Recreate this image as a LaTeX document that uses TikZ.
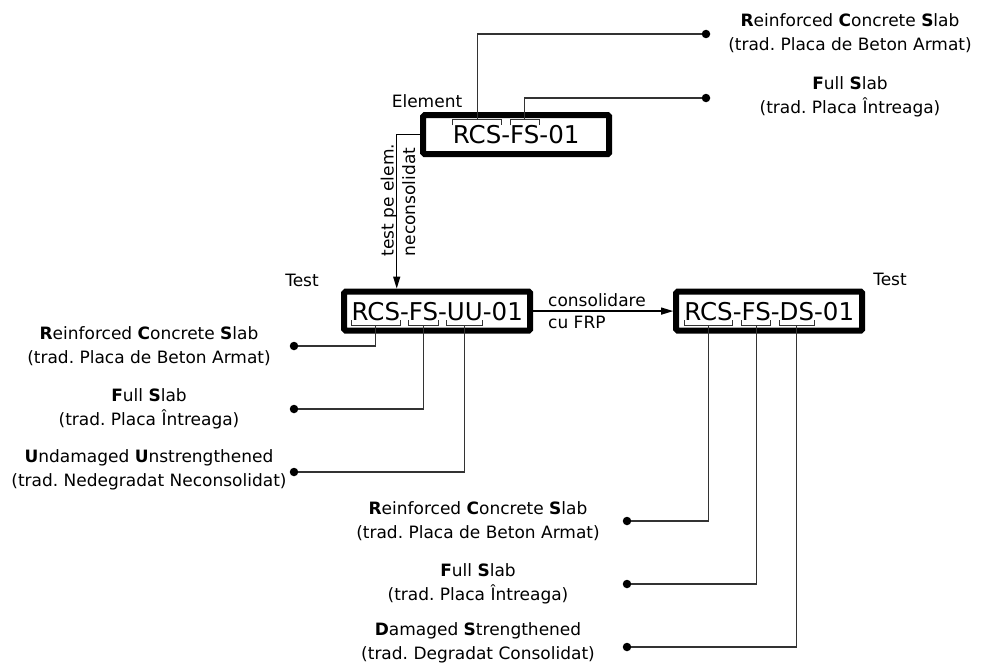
\documentclass[tikz,border=0pt]{standalone}
\usepackage{fontspec}
\setmainfont{DejaVu Sans}
\usetikzlibrary{calc,fit,arrows.meta}
\frenchspacing

% bracket under a code segment, with its midpoint kept as <name>m
\newcommand\underbrk[1]{%
  \draw[brk] (#1.base west) -- ($(#1.base west)+(0,5)$) -- ($(#1.base east)+(0,5)$) -- (#1.base east);
  \coordinate (#1m) at ($(#1.base)+(0,5)$);}
% bracket over a code segment
\newcommand\overbrk[1]{%
  \draw[brk] (#1.north west) -- ($(#1.north west)+(0,-6)$) -- ($(#1.north east)+(0,-6)$) -- (#1.north east);
  \coordinate (#1m) at ($(#1.north)+(0,-6)$);}

\begin{document}
\begin{tikzpicture}[x=1pt,y=-1pt,
  seg/.style={inner sep=0pt, outer sep=0pt, anchor=base west, font=\fontsize{24.5}{29}\selectfont},
  codebox/.style={draw, line width=6pt, inner sep=0pt, minimum width=186pt, minimum height=39pt, rounded corners=1.5pt},
  txt/.style={font=\fontsize{17}{24}\selectfont, align=center, inner sep=0pt},
  arrlbl/.style={font=\fontsize{17}{21.5}\selectfont, align=left, inner sep=0pt},
  enddot/.style={circle, fill, inner sep=0pt, minimum size=8.5pt},
  lead/.style={line width=1.1pt, draw=black!80},
  brk/.style={line width=1pt, draw=black!80},
  flow/.style={line width=1.2pt, -{Triangle[length=12pt,width=7pt]}},
]
\useasboundingbox (0,0) rectangle (981,669);

% ---- element code RCS-FS-01
\node[seg] (b1r) at (452.9,143.5) {RCS};
\node[seg] (b1h1) at (b1r.base east) {-};
\node[seg] (b1f) at (b1h1.base east) {FS};
\node[seg] (b1h2) at (b1f.base east) {-01};
\node[codebox, fit=(b1r)(b1h2)] (box1) {};
\overbrk{b1r}
\overbrk{b1f}
\node[txt] (el) at (427,101) {Element};

% ---- test code RCS-FS-UU-01
\node[seg] (b2r) at (351.6,320) {RCS};
\node[seg] (b2h1) at (b2r.base east) {-};
\node[seg] (b2f) at (b2h1.base east) {FS};
\node[seg] (b2h2) at (b2f.base east) {-};
\node[seg] (b2u) at (b2h2.base east) {UU};
\node[seg] (b2h3) at (b2u.base east) {-01};
\node[codebox, fit=(b2r)(b2h3)] (box2) {};
\underbrk{b2r}
\underbrk{b2f}
\underbrk{b2u}
\node[txt] (t2) at (302,280) {Test};

% ---- test code RCS-FS-DS-01
\node[seg] (b3r) at (684.3,320) {RCS};
\node[seg] (b3h1) at (b3r.base east) {-};
\node[seg] (b3f) at (b3h1.base east) {FS};
\node[seg] (b3h2) at (b3f.base east) {-};
\node[seg] (b3d) at (b3h2.base east) {DS};
\node[seg] (b3h3) at (b3d.base east) {-01};
\node[codebox, fit=(b3r)(b3h3)] (box3) {};
\underbrk{b3r}
\underbrk{b3f}
\underbrk{b3d}
\node[txt] (t3) at (890,279) {Test};

% ---- flow between codes
\draw[flow] (box1.west) -| ($(box2.north)+(-40.5,0)$);
\node[arrlbl, rotate=90] (vl) at (398,200) {test pe elem.\\neconsolidat};
\draw[flow] (box2.east) -- (box3.west);
\node[arrlbl, anchor=west] (hl) at (548,311) {consolidare\\cu FRP};

% ---- explanations of the element code
\node[enddot] (dt1) at (706,34) {};
\node[enddot] (dt2) at (706,98) {};
\node[txt] (lt1) at (850,33) {\textbf{R}einforced \textbf{C}oncrete \textbf{S}lab\\(trad. Placa de Beton Armat)};
\node[txt] (lt2) at (850,97) {\textbf{F}ull \textbf{S}lab\\(trad. Placa Întreaga)};
\draw[lead] (b1rm) |- (dt1);
\draw[lead] (b1fm) |- (dt2);

% ---- explanations of the undamaged test code
\node[enddot] (dl1) at (294,346) {};
\node[enddot] (dl2) at (294,409) {};
\node[enddot] (dl3) at (294,472) {};
\node[txt] (ll1) at (149,346) {\textbf{R}einforced \textbf{C}oncrete \textbf{S}lab\\(trad. Placa de Beton Armat)};
\node[txt] (ll2) at (149,409) {\textbf{F}ull \textbf{S}lab\\(trad. Placa Întreaga)};
\node[txt] (ll3) at (149,470) {\textbf{U}ndamaged \textbf{U}nstrengthened\\(trad. Nedegradat Neconsolidat)};
\draw[lead] (b2rm) |- (dl1);
\draw[lead] (b2fm) |- (dl2);
\draw[lead] (b2um) |- (dl3);

% ---- explanations of the strengthened test code
\node[enddot] (db1) at (627,521) {};
\node[enddot] (db2) at (627,584) {};
\node[enddot] (db3) at (627,647) {};
\node[txt] (lb1) at (478,521) {\textbf{R}einforced \textbf{C}oncrete \textbf{S}lab\\(trad. Placa de Beton Armat)};
\node[txt] (lb2) at (478,584) {\textbf{F}ull \textbf{S}lab\\(trad. Placa Întreaga)};
\node[txt] (lb3) at (478,643) {\textbf{D}amaged \textbf{S}trengthened\\(trad. Degradat Consolidat)};
\draw[lead] (b3rm) |- (db1);
\draw[lead] (b3fm) |- (db2);
\draw[lead] (b3dm) |- (db3);
\end{tikzpicture}
\end{document}
